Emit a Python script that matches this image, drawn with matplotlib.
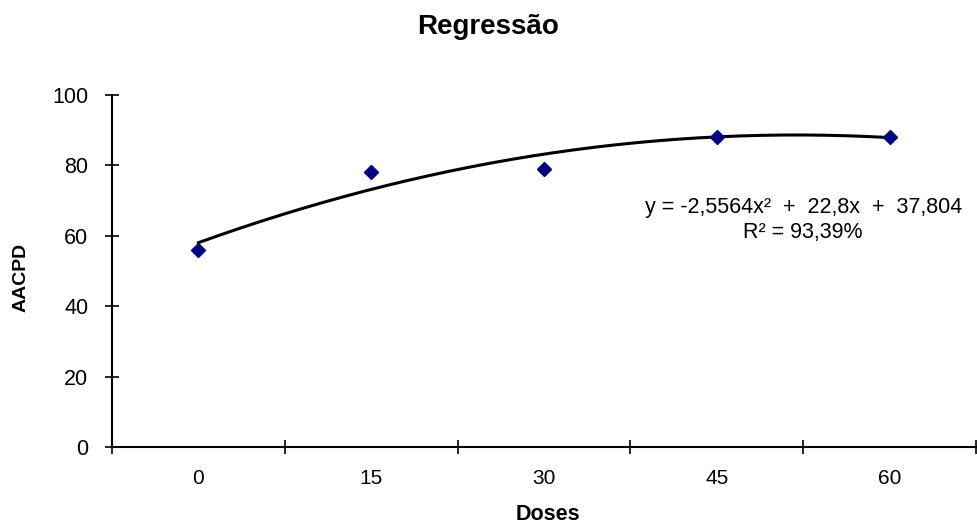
import matplotlib.pyplot as plt
import numpy as np

plt.rcParams['font.family'] = ['Liberation Sans', 'DejaVu Sans']

doses = ['0', '15', '30', '45', '60']
aacpd = [56, 78, 79, 88, 88]
# coeficientes da linha de tendência (x = posição da categoria 1..5)
coef = [-2.5564, 22.8, 37.804]
eq_text = 'y = -2,5564x²  +  22,8x  +  37,804\nR² = 93,39%'

x = np.arange(1, len(doses) + 1)
xs = np.linspace(1, len(doses), 200)

fig = plt.figure(figsize=(9.77, 5.25), dpi=100)
ax = fig.add_axes([112 / 977, 78 / 525, 864 / 977, 352 / 525])

ax.plot(xs, np.polyval(coef, xs), color='black', lw=2.2, zorder=2)
ax.plot(x, aacpd, linestyle='none', marker='D', markersize=7.5,
        color='#000080', zorder=3)

ax.set_xlim(0.5, len(doses) + 0.5)
ax.set_ylim(0, 100)
ax.set_yticks(range(0, 101, 20))
ax.set_xticks(np.arange(0.5, len(doses) + 1, 1))
ax.set_xticklabels([])
ax.set_xticks(x, minor=True)
ax.set_xticklabels(doses, minor=True)
ax.tick_params(axis='x', which='minor', length=0, labelsize=15, pad=16)
ax.tick_params(axis='x', which='major', direction='inout', length=10, width=1.2)
ax.tick_params(axis='y', direction='inout', length=10, width=1.2, labelsize=15.5, pad=12)

for s in ['top', 'right']:
    ax.spines[s].set_visible(False)
for s in ['left', 'bottom']:
    ax.spines[s].set_linewidth(1.5)

ax.text(4.5, 64.5, eq_text, ha='center', va='center', fontsize=15.5, linespacing=1.3)

fig.text(488 / 977, 1 - 27 / 525, 'Regressão', ha='center', va='center',
         fontsize=20, fontweight='bold')
fig.text(548 / 977, 1 - 514 / 525, 'Doses', ha='center', va='center',
         fontsize=15.5, fontweight='bold')
fig.text(21 / 977, 1 - 277 / 525, 'AACPD', ha='center', va='center',
         fontsize=14, fontweight='bold', rotation=90)

plt.savefig('out.png', dpi=100)
